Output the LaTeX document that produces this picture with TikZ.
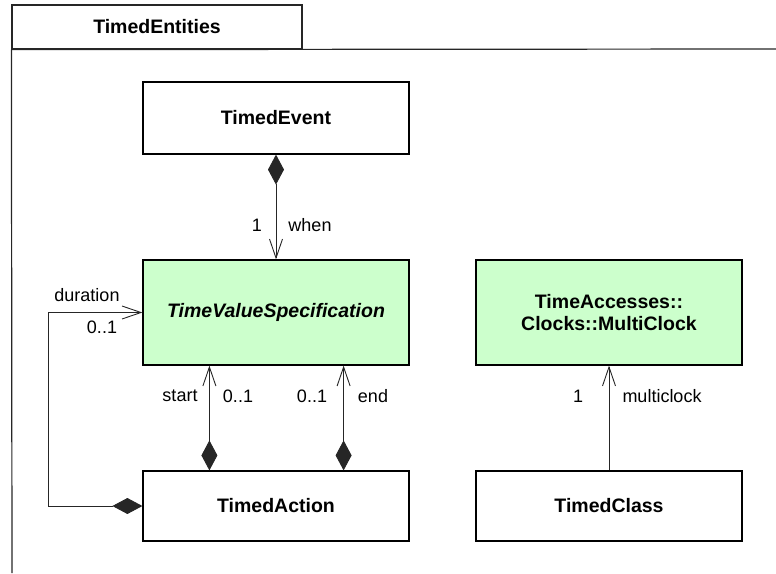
\documentclass[tikz,border=0pt]{standalone}
\usepackage{fontspec}
\setmainfont{Liberation Sans}
\usetikzlibrary{arrows.meta}
\definecolor{umlgreen}{HTML}{CCFFCC}
\begin{document}
\begin{tikzpicture}[x=1pt,y=-1pt,
  cls/.style={draw=black,line width=1.2pt,minimum width=266pt,inner sep=0pt,
    font=\fontsize{19.5}{22}\selectfont\bfseries,align=center},
  greencls/.style={cls,fill=umlgreen},
  lbl/.style={font=\fontsize{18}{22}\selectfont,inner sep=0pt},
  conn/.style={line width=0.9pt,draw=black!85},
  comp/.style={conn,{Diamond[length=30pt,width=16pt]}-{Straight Barb[length=19pt,width=13pt]}},
  nav/.style={conn,-{Straight Barb[length=19pt,width=13pt]}},
  frame/.style={draw=black!85,line width=1.2pt}
]
\useasboundingbox (0,0) rectangle (776,573);
% package frame
\node[frame,minimum width=290pt,minimum height=44pt,inner sep=0pt,
  font=\fontsize{19.5}{22}\selectfont\bfseries] (tab) at (157,27) {TimedEntities};
\draw[frame] (tab.south west) -- (12,573);
\draw[frame] (tab.south west) -- (776,49);
% classes
\node[cls,minimum height=72pt] (te) at (276,118) {TimedEvent};
\node[greencls,minimum height=105pt] (tvs) at (276,312.5) {\itshape TimeValueSpecification};
\node[cls,minimum height=70pt] (ta) at (276,506) {TimedAction};
\node[greencls,minimum height=105pt] (mc) at (609,312.5) {TimeAccesses::\\Clocks::MultiClock};
\node[cls,minimum height=70pt] (tc) at (609,506) {TimedClass};
% connectors
\draw[comp] (te.south) -- (tvs.north);
\draw[comp] ([xshift=67pt]ta.north west) -- ([xshift=67pt]tvs.south west);
\draw[comp] ([xshift=-66pt]ta.north east) -- ([xshift=-66pt]tvs.south east);
\draw[comp] (ta.west) -- ++(-94,0) |- (tvs.west);
\draw[nav] (tc.north) -- (mc.south);
% labels
\node[lbl] (l1) at (257,225) {1};
\node[lbl] (l2) at (310,225) {when};
\node[lbl] (l3) at (87,295) {duration};
\node[lbl] (l4) at (102,327) {0..1};
\node[lbl] (l5) at (180,396) {start};
\node[lbl] (l6) at (238,396) {0..1};
\node[lbl] (l7) at (312,396) {0..1};
\node[lbl] (l8) at (373,396) {end};
\node[lbl] (l9) at (578,396) {1};
\node[lbl] (l10) at (662,396) {multiclock};
\end{tikzpicture}
\end{document}
